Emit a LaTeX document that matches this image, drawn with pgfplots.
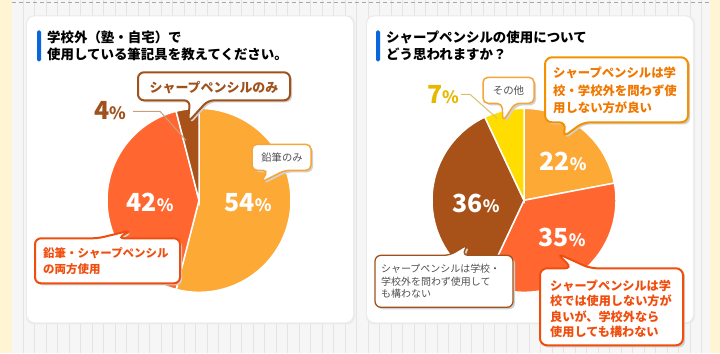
\documentclass[border=0pt]{standalone}
\usepackage{pgfplots}
\pgfplotsset{compat=1.18}
\usepackage{fontspec}
\setmainfont{Noto Sans CJK JP}
\newfontfamily\jp{Noto Sans CJK JP}
\definecolor{cLight}{HTML}{FCA936}
\definecolor{cRed}{HTML}{FF6630}
\definecolor{cBrown}{HTML}{A8521A}
\definecolor{cYellow}{HTML}{FFDD00}
\definecolor{cBlue}{HTML}{0A66DD}
\definecolor{cCream}{HTML}{FFF5D4}
\definecolor{cBg}{HTML}{F6F6F6}
\definecolor{cGrid}{HTML}{E4E4E4}
\definecolor{bRed}{HTML}{F04E0E}
\definecolor{bOrange}{HTML}{F39200}
\definecolor{tOrange}{HTML}{F07800}
\definecolor{bLight}{HTML}{F5A53A}
\definecolor{bBrown}{HTML}{A0521C}
\definecolor{tGold}{HTML}{E6B800}
\definecolor{lGold}{HTML}{D8C070}
\definecolor{lTan}{HTML}{C8A080}
\definecolor{tGray}{HTML}{505050}
% pie data (percent): left: 54 / 42 / 4 ; right: 22 / 35 / 36 / 7
% slice angles = cumulative percent * 3.6 degrees, clockwise from the top
\newcommand{\slice}[6]{% cx cy r t1 t2 color
  \addplot[fill=#6, draw=white, line width=1.5pt, domain=#4:#5, samples=80, variable=\t]
    ({#1+#3*sin(\t)}, {#2-#3*cos(\t)}) -- (axis cs:#1,#2) -- cycle;}
\newcommand{\boxshadow}[1]{\fill[black!18, rounded corners=6bp, shift={(2bp,-2bp)}] #1;}
\newcommand{\pct}[1]{{\jp\bfseries\fontsize{25}{25}\selectfont #1\fontsize{17}{17}\selectfont\%}}
\begin{document}
\begin{tikzpicture}[x=1bp,y=-1bp]
% background
\fill[cBg] (0,0) rectangle (720,353);
\draw[cGrid, line width=0.6bp, step=11.5] (12,0) grid (710,353);
\fill[cCream] (0,0) rectangle (12,353);
\fill[cCream] (710,0) rectangle (720,353);
\draw[black!35, dash pattern=on 4bp off 3bp, line width=0.8bp] (12,2) -- (710,2);
% panels
\fill[black!8, rounded corners=8bp] (26,15) rectangle (355,324);
\fill[white, rounded corners=8bp] (27,16) rectangle (353,322);
\fill[black!8, rounded corners=8bp] (366,15) rectangle (695,324);
\fill[white, rounded corners=8bp] (367,16) rectangle (693,322);
% titles
\fill[cBlue, rounded corners=1.5bp] (37,30) rectangle (41,61);
\node[anchor=west, font=\jp\bfseries\fontsize{13.5}{17}\selectfont, align=left, inner sep=0] at (47,45.5)
  {学校外（塾・自宅）で\\使用している筆記具を教えてください。};
\fill[cBlue, rounded corners=1.5bp] (376,30) rectangle (380,61);
\node[anchor=west, font=\jp\bfseries\fontsize{13.5}{17}\selectfont, align=left, inner sep=0] at (386,45.5)
  {シャープペンシルの使用について\\どう思われますか？};

\begin{axis}[at={(0,353)}, anchor=south west, width=720bp, height=353bp, scale only axis,
  xmin=0, xmax=720, ymin=0, ymax=353, y dir=reverse, hide axis, clip=false]
% left pie: 54, 42, 4
\slice{199}{200}{92}{0}{194.4}{cLight}
\slice{199}{200}{92}{194.4}{345.6}{cRed}
\slice{199}{200}{92}{345.6}{360}{cBrown}
% right pie: 22, 35, 36, 7
\slice{524}{200}{92}{0}{79.2}{cLight}
\slice{524}{200}{92}{79.2}{205.2}{cRed}
\slice{524}{200}{92}{205.2}{334.8}{cBrown}
\slice{524}{200}{92}{334.8}{360}{cYellow}
\end{axis}

% percentage labels
\node[white] at (248,202) {\pct{54}};
\node[white] at (150,202) {\pct{42}};
\node[bBrown] at (110,110) {\pct{4}};
\draw[lTan, line width=1bp] (133,111) -- (160,111) -- (186,140);
\node[white] at (563,161) {\pct{22}};
\node[white] at (562,237) {\pct{35}};
\node[white] at (476,203) {\pct{36}};
\node[tGold] at (443,94) {\pct{7}};
\draw[lGold, line width=1bp] (461,94) -- (470,94) -- (497,118);

% callouts
% シャープペンシルのみ
\def\p{(138,72) -- (290,72) -- (290,100) -- (208,100) -- (188,122) -- (190,100) -- (138,100) -- cycle}
\boxshadow{\p}
\draw[bBrown, fill=white, line width=2bp, rounded corners=6bp] \p;
\node[bBrown, font=\jp\bfseries\fontsize{13}{13}\selectfont] at (214,87) {シャープペンシルのみ};
% 鉛筆のみ
\def\p{(252,144) -- (311,144) -- (311,170) -- (285,170) -- (261,182) -- (268,170) -- (252,170) -- cycle}
\boxshadow{\p}
\draw[bLight, fill=white, line width=1.5bp, rounded corners=5bp] \p;
\node[tGray, font=\jp\fontsize{10.3}{10.3}\selectfont] at (282,157) {鉛筆のみ};
% 鉛筆・シャープペンシルの両方使用
\def\p{(35,238) -- (98,238) -- (131,230) -- (118,238) -- (180,238) -- (180,283) -- (35,283) -- cycle}
\boxshadow{\p}
\draw[bRed, fill=white, line width=2bp, rounded corners=6bp] \p;
\node[bRed, anchor=west, align=left, inner sep=0, font=\jp\bfseries\fontsize{11.5}{16}\selectfont] at (43,261)
  {鉛筆・シャープペンシル\\の両方使用};
% その他
\def\p{(483,77) -- (534,77) -- (534,103) -- (515,103) -- (503,121) -- (502,103) -- (483,103) -- cycle}
\boxshadow{\p}
\draw[bLight, fill=white, line width=1.5bp, rounded corners=5bp] \p;
\node[tGray, font=\jp\fontsize{10.5}{10.5}\selectfont] at (508.5,90) {その他};
% big orange
\def\p{(545,57) -- (688,57) -- (688,122) -- (583,122) -- (563,137) -- (566,122) -- (545,122) -- cycle}
\boxshadow{\p}
\draw[bOrange, fill=white, line width=2bp, rounded corners=7bp] \p;
\node[tOrange, anchor=west, align=left, inner sep=0, font=\jp\bfseries\fontsize{12.4}{17.5}\selectfont] at (553,90)
  {シャープペンシルは学\\校・学校外を問わず使\\用しない方が良い};
% gray text box
\def\p{(375,255) -- (450,255) -- (468,244) -- (462,255) -- (513,255) -- (513,307) -- (375,307) -- cycle}
\boxshadow{\p}
\draw[bBrown, fill=white, line width=1.3bp, rounded corners=6bp] \p;
\node[tGray, anchor=west, align=left, inner sep=0, font=\jp\fontsize{10}{12.5}\selectfont] at (381,281)
  {シャープペンシルは学校・\\学校外を問わず使用して\\も構わない};
% red box
\def\p{(540,268) -- (572,268) -- (557,253) -- (590,268) -- (683,268) -- (683,345) -- (540,345) -- cycle}
\boxshadow{\p}
\draw[bRed, fill=white, line width=2bp, rounded corners=7bp] \p;
\node[bRed, anchor=west, align=left, inner sep=0, font=\jp\bfseries\fontsize{12.2}{15.5}\selectfont] at (550,308.5)
  {シャープペンシルは学\\校では使用しない方が\\良いが、学校外なら\\使用しても構わない};
\end{tikzpicture}
\end{document}
